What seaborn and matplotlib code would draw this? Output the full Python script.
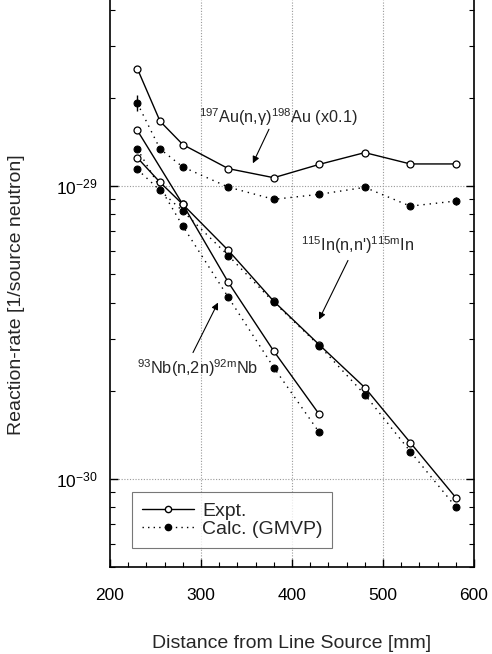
import numpy as np
import pandas as pd
import matplotlib
matplotlib.use("Agg")
import matplotlib.pyplot as plt
import seaborn as sns
from matplotlib.ticker import MultipleLocator, LogLocator, NullFormatter, FixedLocator
from matplotlib.lines import Line2D

sns.set_theme(style="ticks")
plt.rcParams['font.family'] = ['Liberation Sans', 'DejaVu Sans']
plt.rcParams['mathtext.fontset'] = 'custom'
plt.rcParams['mathtext.rm'] = 'Liberation Sans'
plt.rcParams['mathtext.it'] = 'Liberation Sans'
plt.rcParams['mathtext.default'] = 'regular'
plt.rcParams['axes.unicode_minus'] = False

# ---- data ----
dist_full = [230, 255, 280, 330, 380, 430, 480, 530, 580]
dist_nb = [230, 280, 330, 380, 430]

au_expt = [2.52e-29, 1.665e-29, 1.386e-29, 1.147e-29, 1.068e-29, 1.186e-29, 1.301e-29, 1.19e-29, 1.19e-29]
au_calc = [1.92e-29, 1.339e-29, 1.162e-29, 9.92e-30, 9.01e-30, 9.37e-30, 9.9e-30, 8.54e-30, 8.89e-30]
au_calc_err = [0.12e-29, 0, 0, 0, 0, 0, 0, 0, 0.03e-29]

in_expt = [1.25e-29, 1.03e-29, 8.66e-30, 6.03e-30, 4.04e-30, 2.87e-30, 2.05e-30, 1.33e-30, 8.63e-31]
in_calc = [1.14e-29, 9.67e-30, 8.21e-30, 5.79e-30, 4.01e-30, 2.85e-30, 1.94e-30, 1.24e-30, 8.02e-31]

nb_expt = [1.55e-29, 8.66e-30, 4.69e-30, 2.73e-30, 1.66e-30]
nb_calc = [1.34e-29, 7.30e-30, 4.17e-30, 2.40e-30, 1.44e-30]

xticks = [200, 300, 400, 500, 600]
yticks = [1e-30, 1e-29]

fig = plt.figure(figsize=(4.92, 6.54), dpi=100)
ax = fig.add_axes([110/492, 1-567/654, 364/492, 567/654])

ax.set_yscale('log')
ax.set_xlim(200, 600)
ax.set_ylim(5e-31, 4.32e-29)

# grid lines
for xv in [300, 400, 500]:
    ax.axvline(xv, color='#999999', lw=0.8, ls=(0, (1, 1.5)), zorder=0)
for yv in yticks:
    ax.axhline(yv, color='#999999', lw=0.8, ls=(0, (1, 1.5)), zorder=0)

def draw(x, y, expt):
    df = pd.DataFrame({'x': x, 'y': y})
    if expt:
        sns.lineplot(data=df, x='x', y='y', ax=ax, color='black', lw=1.0,
                     marker='o', markersize=5, markerfacecolor='white',
                     markeredgecolor='black', markeredgewidth=0.9, zorder=3)
    else:
        sns.lineplot(data=df, x='x', y='y', ax=ax, color='black', lw=1.0,
                     ls=(0, (1, 3.5)), marker='o', markersize=5,
                     markerfacecolor='black', markeredgecolor='black', zorder=3)

draw(dist_full, au_expt, True)
draw(dist_full, au_calc, False)
draw(dist_full, in_expt, True)
draw(dist_full, in_calc, False)
draw(dist_nb, nb_expt, True)
draw(dist_nb, nb_calc, False)

err = np.array(au_calc_err)
mask = err > 0
ax.errorbar(np.array(dist_full)[mask], np.array(au_calc)[mask], yerr=err[mask],
            fmt='none', ecolor='black', elinewidth=1.0, capsize=0, zorder=4)

ax.set_xticks(xticks)
ax.xaxis.set_minor_locator(MultipleLocator(20))
ax.yaxis.set_major_locator(FixedLocator(yticks))
ax.yaxis.set_minor_locator(LogLocator(base=10, subs=np.arange(2, 10)))
ax.yaxis.set_minor_formatter(NullFormatter())
ax.tick_params(which='both', direction='in', left=True, right=True, top=False,
               bottom=True, labelsize=12.5, colors='black')
ax.tick_params(which='major', length=5.5, width=1.0)
ax.tick_params(which='minor', length=3.5, width=0.8)
ax.tick_params(axis='x', pad=15)
ax.tick_params(axis='y', pad=9)
ax.spines['top'].set_visible(False)
for s in ['left', 'right', 'bottom']:
    ax.spines[s].set_linewidth(1.2)
    ax.spines[s].set_color('black')

ax.set_xlabel('Distance from Line Source [mm]', fontsize=14)
ax.xaxis.set_label_coords(0.5, -0.12)
ax.set_ylabel('Reaction-rate [1/source neutron]', fontsize=14)
ax.yaxis.set_label_coords(-0.2335, 0.48)

# annotations
ax.text(384.6, 1.72e-29, r'$^{197}$Au(n,γ)$^{198}$Au (x0.1)', fontsize=11.7,
        ha='center', va='center')
ax.text(472, 6.27e-30, r"$^{115}$In(n,n')$^{115m}$In", fontsize=11.7,
        ha='center', va='center')
ax.text(296, 2.38e-30, r"$^{93}$Nb(n,2n)$^{92m}$Nb", fontsize=11.7,
        ha='center', va='center')

arrow_kw = dict(arrowstyle='-|>', color='black', lw=0.8, mutation_scale=10,
                shrinkA=0, shrinkB=0)
ax.annotate('', xy=(357, 1.196e-29), xytext=(374.7, 1.563e-29), arrowprops=arrow_kw)
ax.annotate('', xy=(429.7, 3.5e-30), xytext=(461.5, 5.57e-30), arrowprops=arrow_kw)
ax.annotate('', xy=(318.7, 4.0e-30), xytext=(291.2, 2.70e-30), arrowprops=arrow_kw)

handles = [
    Line2D([], [], color='black', lw=1.0, marker='o', markersize=4.5,
           markerfacecolor='white', markeredgecolor='black'),
    Line2D([], [], color='black', lw=1.0, ls=(0, (1, 3)), marker='o', markersize=4.5,
           markerfacecolor='black', markeredgecolor='black'),
]
leg = ax.legend(handles, ['Expt.', 'Calc. (GMVP)'], loc='lower left',
                bbox_to_anchor=(0.0604, 0.0335), fontsize=14, frameon=True, fancybox=False,
                handlelength=2.7, handletextpad=0.4, borderpad=0.5, labelspacing=0.05,
                borderaxespad=0)
leg.get_frame().set_edgecolor('#555555')
leg.get_frame().set_linewidth(0.8)

fig.savefig('out.png', dpi=100)
